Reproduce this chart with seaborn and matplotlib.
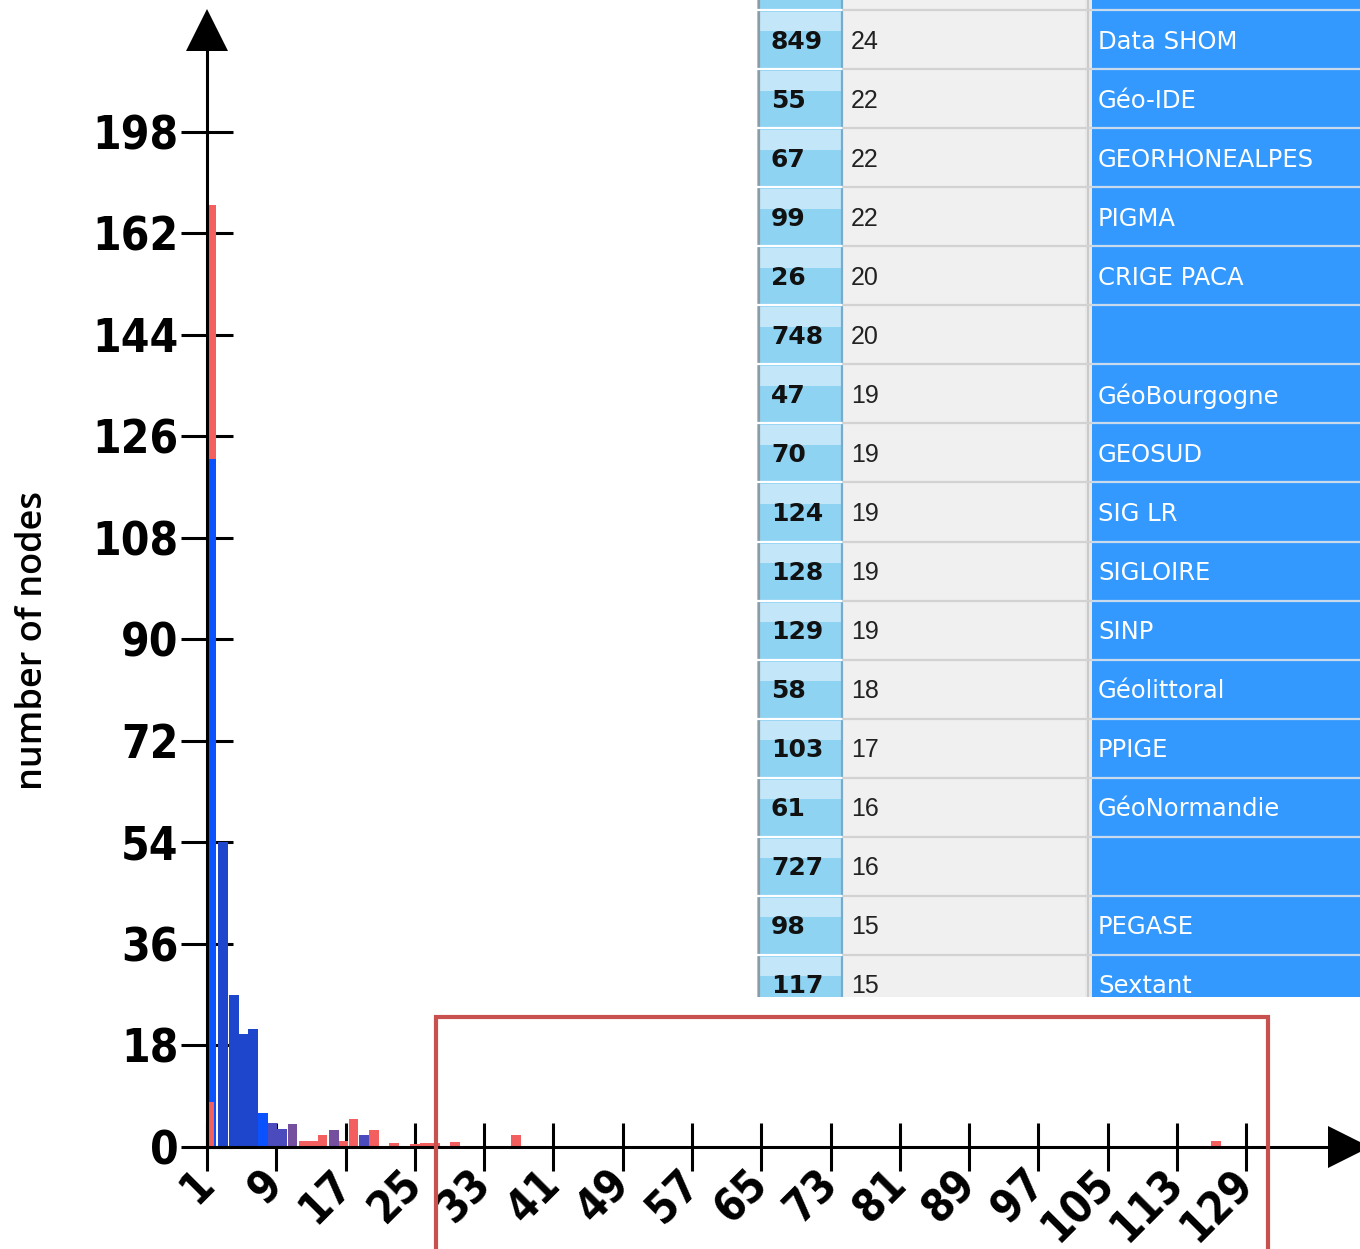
import matplotlib
matplotlib.use("Agg")
import matplotlib.pyplot as plt
import matplotlib.transforms as mtransforms
from matplotlib.patches import Rectangle
import pandas as pd
import seaborn as sns

# histogram bars (x position on the degree axis, number of nodes, colour group)
degree = [1.46, 2.85, 4.12, 5.21, 6.31, 7.47, 8.56, 9.66, 10.87, 12.14, 13.24,
          14.34, 15.67, 16.76, 17.92, 19.13, 20.28, 22.6, 25.0, 26.2, 27.3,
          29.6, 36.7, 117.5]
nodes = [122, 54, 27, 20, 21, 6, 4.2, 3.2, 4.1, 1.1, 1.1, 2.1, 3.0, 1.0, 5.0,
         2.1, 3.0, 0.7, 0.6, 0.7, 0.7, 0.8, 2.1, 1.0]
shade = ["blue", "navy", "navy", "navy", "navy", "blue", "indigo", "indigo",
         "purple", "red", "red", "red", "purple", "red", "red", "indigo", "red",
         "red", "red", "red", "red", "red", "red", "red"]

# red bar hidden behind the first blue one, and the small red one in front
back_degree = [1.46]
back_nodes = [167]
front_degree = [1.4]
front_nodes = [8]

# axis ticks (labels as printed on the original)
xtick_pos = [1, 9, 17, 25, 33, 41, 49, 57, 65, 73, 81, 89, 97, 105, 113, 121]
xtick_lab = ["1", "9", "17", "25", "33", "41", "49", "57", "65", "73", "81",
             "89", "97", "105", "113", "129"]
ytick_pos = [0, 18, 36, 54, 72, 90, 108, 126, 144, 162, 180]
ytick_lab = ["0", "18", "36", "54", "72", "90", "108", "126", "144", "162", "198"]

# table of the screenshot
table_id = ["849", "55", "67", "99", "26", "748", "47", "70", "124", "128",
            "129", "58", "103", "61", "727", "98", "117"]
table_deg = [24, 22, 22, 22, 20, 20, 19, 19, 19, 19, 19, 18, 17, 16, 16, 15, 15]
table_name = ["Data SHOM", "Géo-IDE", "GEORHONEALPES", "PIGMA", "CRIGE PACA", "",
              "GéoBourgogne", "GEOSUD", "SIG LR", "SIGLOIRE", "SINP",
              "Géolittoral", "PPIGE", "GéoNormandie", "", "PEGASE", "Sextant"]

pal = {"red": "#F25F5E", "blue": "#0B52FF", "navy": "#1E46CC",
       "indigo": "#4B4BBE", "purple": "#74509F"}

sns.set_style("ticks")
W, H = 1360, 1249
fig = plt.figure(figsize=(W / 100, H / 100), dpi=100)

# main axes: y axis at px 207, x axis at px 1147
x0, x1, ytop, ybot = 207, 1335, 50, 1147
ax = fig.add_axes([x0 / W, (H - ybot) / H, (x1 - x0) / W, (ybot - ytop) / H])

df = pd.DataFrame({"degree": degree, "nodes": nodes, "shade": shade})
sns.barplot(x=back_degree, y=back_nodes, color=pal["red"], native_scale=True,
            width=1.1, errorbar=None, saturation=1, linewidth=0, ax=ax)
sns.barplot(data=df, x="degree", y="nodes", hue="shade", palette=pal,
            native_scale=True, dodge=False, width=1.05, errorbar=None,
            saturation=1, linewidth=0, legend=False, ax=ax)
sns.barplot(x=front_degree, y=front_nodes, color=pal["red"], native_scale=True,
            width=0.75, errorbar=None, saturation=1, linewidth=0, ax=ax)

ax.set_xlim(1, 1 + (x1 - x0) / 8.66)
ax.set_ylim(0, (ybot - ytop) / 5.64)
ax.set_xlabel("")
ax.set_ylabel("")
for s in ["top", "right"]:
    ax.spines[s].set_visible(False)
for s in ["left", "bottom"]:
    ax.spines[s].set_linewidth(2.2)
    ax.spines[s].set_color("black")

tick_font = dict(family="DejaVu Sans", weight="bold", size=33,
                 stretch="condensed", color="black")
ax.set_yticks(ytick_pos)
ax.set_yticklabels(ytick_lab, fontdict=tick_font)
ax.set_xticks(xtick_pos)
ax.set_xticklabels(xtick_lab, fontdict=dict(tick_font, size=31.5), rotation=45,
                   ha="right", va="baseline", rotation_mode="anchor")
ax.tick_params(axis="y", left=True, direction="inout", length=38, width=2.2,
               pad=1.5, color="black", labelcolor="black")
ax.tick_params(axis="x", bottom=True, direction="inout", length=34, width=2.2,
               pad=11, color="black", labelcolor="black")
shift = mtransforms.ScaledTranslation(9 / 100, 0, fig.dpi_scale_trans)
for lab in ax.get_xticklabels():
    lab.set_transform(lab.get_transform() + shift)

# arrow heads
ax.plot(0, 1 + 20 / (ybot - ytop), marker="^", ms=30, color="black", mew=0,
        transform=ax.transAxes, clip_on=False)
ax.plot(1 + 14 / (x1 - x0), 0, marker=">", ms=30, color="black", mew=0,
        transform=ax.transAxes, clip_on=False)

fig.text(33 / W, 1 - 640 / H, "number of nodes", rotation=90, ha="center",
         va="center", family="Open Sans", weight="semibold", size=26,
         color="black")

# table screenshot in the upper right
tx = fig.add_axes([757 / W, (H - 997) / H, (W - 757) / W, 997 / H])
tx.set_xlim(0, W - 757)
tx.set_ylim(997, 0)
tx.axis("off")
pitch = 59.06
for i in range(-1, len(table_id)):
    top = 10 + i * pitch
    tx.add_patch(Rectangle((0, top), 86, pitch, fc="#8FD3F3", ec="none"))
    tx.add_patch(Rectangle((2, top + 2), 82, pitch * 0.33, fc="#C3E7F8", ec="none"))
    tx.plot([1.5, 1.5], [top, top + pitch], color="#8C9CA6", lw=1.6)
    tx.plot([85, 85], [top, top + pitch], color="#78AACB", lw=1.6)
    tx.add_patch(Rectangle((86, top), 242, pitch, fc="#F0F0F0", ec="none"))
    tx.add_patch(Rectangle((328, top), 7, pitch, fc="#E8E8E8", ec="none"))
    tx.plot([331, 331], [top, top + pitch], color="#C4C4C4", lw=1.2)
    tx.add_patch(Rectangle((335, top), W - 757 - 335, pitch, fc="#3399FF", ec="none"))
    tx.plot([0, 86], [top, top], color="white", lw=1.6)
    tx.plot([86, 335], [top, top], color="#D2D2D2", lw=1.6)
    tx.plot([335, W - 757], [top, top], color="#C8DAEC", lw=1.6)
    if i < 0:
        continue
    yc = top + pitch / 2 + 2
    tx.text(14, yc, table_id[i], ha="left", va="center", family="DejaVu Sans",
            weight="bold", size=18, color="#111111")
    tx.text(94, yc, str(table_deg[i]), ha="left", va="center",
            family="Liberation Sans", size=18, color="#222222")
    tx.text(341, yc, table_name[i], ha="left", va="center",
            family="DejaVu Sans", size=17.5, color="white")

# red highlight box
fig.add_artist(Rectangle((436 / W, -0.05), (1268 - 436) / W, 0.05 + (H - 1017) / H,
                         transform=fig.transFigure, fill=False, ec="#C8504F",
                         lw=3, zorder=20))

fig.savefig("out.png", dpi=100)
